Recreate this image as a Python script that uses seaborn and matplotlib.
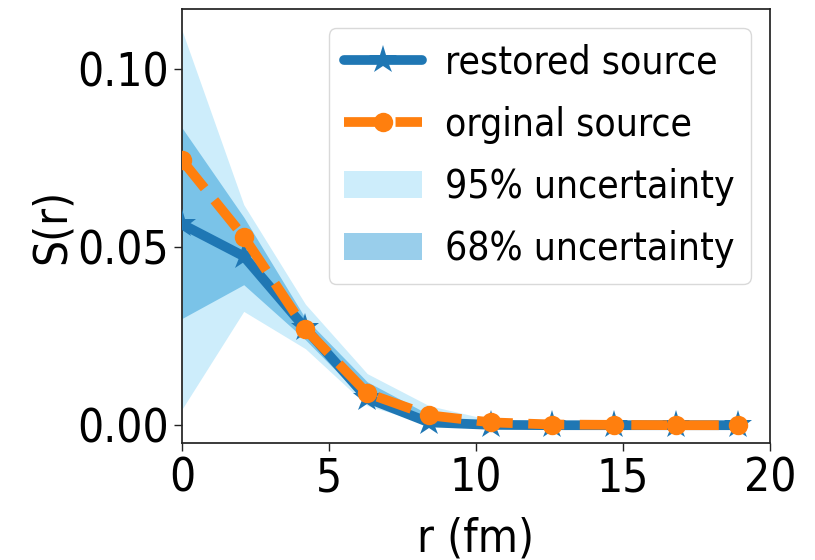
import numpy as np
import pandas as pd
import seaborn as sns
import matplotlib
matplotlib.use("Agg")
import matplotlib.pyplot as plt
from matplotlib.lines import Line2D
from matplotlib.patches import Patch

# Source function S(r) sampled on a radial grid (fm)
r = [0.0, 2.1, 4.2, 6.3, 8.4, 10.5, 12.6, 14.7, 16.8, 18.9]
restored = [0.0565, 0.0475, 0.0272, 0.0076, 0.0008, 0.0001, 0.0, 0.0, 0.0, 0.0]
original = [0.0745, 0.0530, 0.0270, 0.0090, 0.0028, 0.0008, 0.0002, 0.0001, 0.0, 0.0]

# Uncertainty bands of the restored source
hi95 = [0.1110, 0.0620, 0.0340, 0.0145, 0.0055, 0.0015, 0.0010, 0.0010, 0.0010, 0.0010]
lo95 = [0.0045, 0.0320, 0.0215, 0.0055, 0.0003, -0.0005, -0.0005, -0.0005, -0.0005, -0.0005]
hi68 = [0.0836, 0.0585, 0.0300, 0.0122, 0.0030, 0.0008, 0.0005, 0.0005, 0.0005, 0.0005]
lo68 = [0.0300, 0.0395, 0.0240, 0.0065, 0.0001, -0.0003, -0.0003, -0.0003, -0.0003, -0.0003]

labels = ["restored source", "orginal source", "95% uncertainty", "68% uncertainty"]

df = pd.DataFrame({"r": r, "restored": restored, "original": original,
                   "hi95": hi95, "lo95": lo95, "hi68": hi68, "lo68": lo68})

sns.set_theme(style="ticks")
plt.rcParams["font.family"] = ["DejaVu Sans"]
plt.rcParams["font.stretch"] = "condensed"
plt.rcParams["axes.edgecolor"] = "#222222"
plt.rcParams["text.color"] = "black"
plt.rcParams["axes.labelcolor"] = "black"
plt.rcParams["xtick.color"] = "#222222"
plt.rcParams["ytick.color"] = "#222222"
plt.rcParams["xtick.labelcolor"] = "black"
plt.rcParams["ytick.labelcolor"] = "black"

blue = "#1f77b4"
orange = "#ff7f0e"
c95 = "#cdedfb"
c68 = "#7ac3e8"
c68_legend = "#99ceeb"

fig = plt.figure(figsize=(8.15, 5.6), dpi=100)
ax = fig.add_axes([182 / 815, 1 - 443 / 560, 588 / 815, 434 / 560])

ax.fill_between(df["r"], df["lo95"], df["hi95"], color=c95, linewidth=0, zorder=1)
ax.fill_between(df["r"], df["lo68"], df["hi68"], color=c68, linewidth=0, zorder=2)

sns.lineplot(data=df, x="r", y="restored", ax=ax, color=blue, marker="*",
             markersize=21, markeredgewidth=0, linewidth=7, zorder=3)
sns.lineplot(data=df, x="r", y="original", ax=ax, color=orange, marker="o",
             markersize=14, markeredgewidth=0, linewidth=7, linestyle="--", zorder=4)

ax.set_xlim(0, 20)
ax.set_ylim(-0.005, 0.117)
ax.set_xticks([0, 5, 10, 15, 20])
ax.set_yticks([0.0, 0.05, 0.10])
ax.set_yticklabels(["0.00", "0.05", "0.10"])
ax.tick_params(labelsize=33, length=6, width=1)
ax.set_xlabel("r (fm)", fontsize=33, labelpad=11)
ax.set_ylabel("S(r)", fontsize=33, labelpad=2)

handles = [
    Line2D([], [], color=blue, marker="*", markersize=21, markeredgewidth=0, linewidth=7),
    Line2D([], [], color=orange, marker="o", markersize=14, markeredgewidth=0,
           linewidth=7, linestyle="--"),
    Patch(facecolor=c95, edgecolor="none"),
    Patch(facecolor=c68_legend, edgecolor="none"),
]
ax.legend(handles, labels, loc="upper right", fontsize=28, frameon=True,
          fancybox=True, framealpha=0.8, edgecolor="#d0d0d0",
          labelspacing=0.62, handletextpad=0.6)

fig.savefig("out.png", dpi=100)
